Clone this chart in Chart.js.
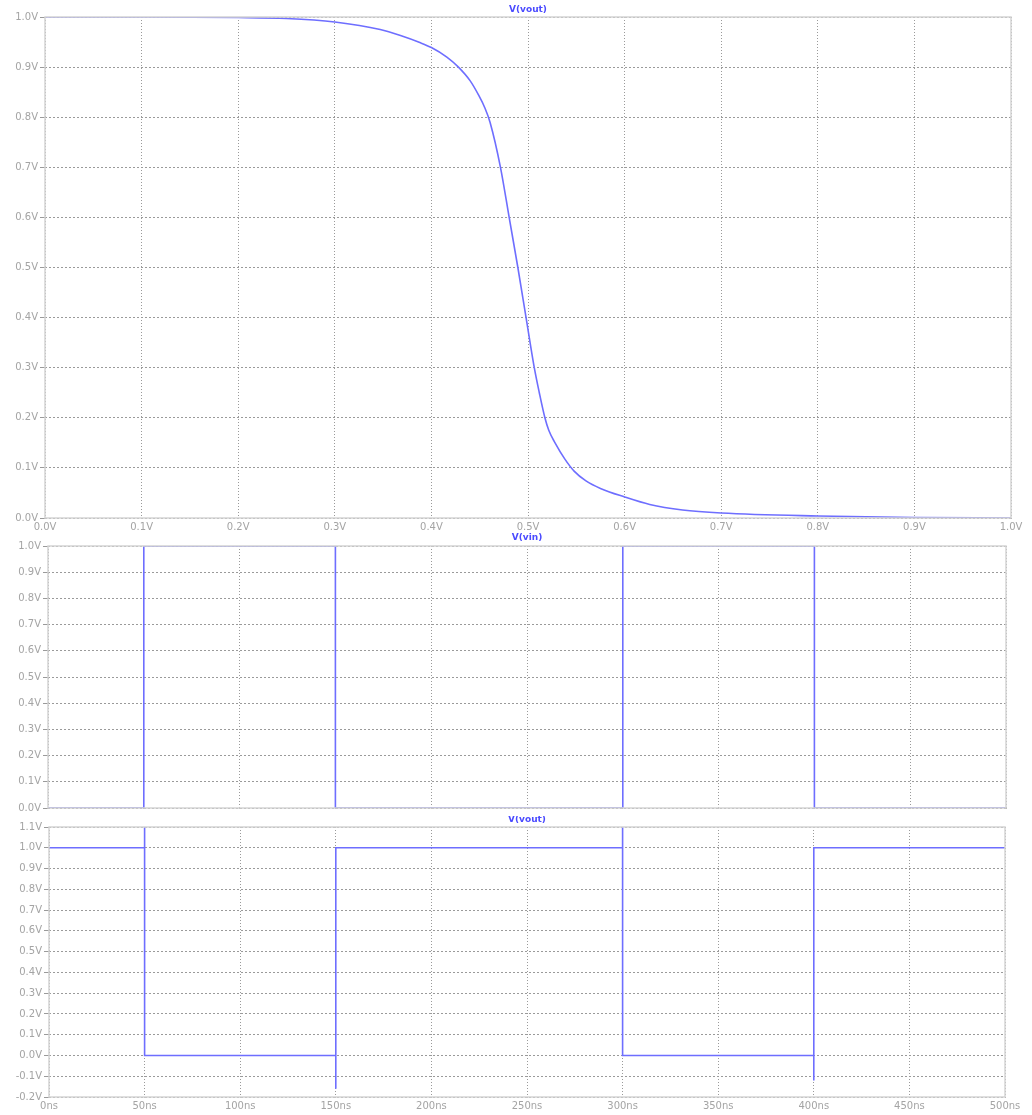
<!DOCTYPE html>
<html>
<head>
<meta charset="utf-8">
<script src="https://cdn.jsdelivr.net/npm/chart.js@4"></script>
<style>
  html, body { margin: 0; padding: 0; background: #fff; }
  #wrap { position: relative; width: 1032px; height: 1115px; }
  canvas { position: absolute; left: 0; }
</style>
</head>
<body>
<div id="wrap">
  <canvas id="dc" width="1032" height="532" style="top:0"></canvas>
  <canvas id="vin" width="1032" height="284" style="top:532px"></canvas>
  <canvas id="vout" width="1032" height="299" style="top:816px"></canvas>
</div>
<script>
// DC sweep: V(vout) vs V(vin)
const sweepVin = [0, 0.1, 0.2, 0.25, 0.3, 0.347, 0.368, 0.388, 0.4, 0.416, 0.428, 0.44, 0.4486, 0.4555, 0.4607, 0.4715, 0.4805, 0.4895, 0.498, 0.5065, 0.5117, 0.5175, 0.5215, 0.528, 0.538, 0.548, 0.56, 0.575, 0.6, 0.626, 0.66, 0.7, 0.8, 0.9, 1.0];
const sweepVout = [1.0, 1.0, 0.999, 0.997, 0.99, 0.975, 0.963, 0.949, 0.939, 0.92, 0.9, 0.873, 0.845, 0.818, 0.79, 0.7, 0.6, 0.5, 0.4, 0.3, 0.25, 0.2, 0.175, 0.15, 0.118, 0.093, 0.074, 0.059, 0.042, 0.027, 0.016, 0.01, 0.004, 0.001, 0.0];

// transient: V(vin)
const vinTime = [0, 50, 50, 150, 150, 300, 300, 400, 400, 500];
const vinVolt = [0, 0, 1, 1, 0, 0, 1, 1, 0, 0];

// transient: V(vout)
const voutTime = [0, 50, 50, 50, 150, 150, 150, 300, 300, 300, 400, 400, 400, 500];
const voutVolt = [1, 1, 1.15, 0, 0, -0.16, 1, 1, 1.15, 0, 0, -0.12, 1, 1];

// tick labels
const sweepTicks = [0, 0.1, 0.2, 0.3, 0.4, 0.5, 0.6, 0.7, 0.8, 0.9, 1.0];
const voltTicks = [0, 0.1, 0.2, 0.3, 0.4, 0.5, 0.6, 0.7, 0.8, 0.9, 1.0];
const voltTicksWide = [-0.2, -0.1, 0, 0.1, 0.2, 0.3, 0.4, 0.5, 0.6, 0.7, 0.8, 0.9, 1.0, 1.1];
const timeTicks = [0, 50, 100, 150, 200, 250, 300, 350, 400, 450, 500];

const LINE = '#6e6eff';
const GRID = '#9a9a9a';
const TEXT = '#a4a4a4';
const FONT = { family: 'DejaVu Sans', size: 10 };

// title + frame around the plot area
const panelDeco = {
  id: 'panelDeco',
  afterDraw(chart, args, opts) {
    const { ctx, chartArea: a } = chart;
    ctx.save();
    ctx.strokeStyle = '#d4d4d4';
    ctx.lineWidth = 1.5;
    ctx.strokeRect(a.left, a.top, a.right - a.left, a.bottom - a.top);
    ctx.fillStyle = '#4a4aff';
    ctx.font = 'bold 9px "DejaVu Sans"';
    ctx.textAlign = 'center';
    ctx.textBaseline = 'middle';
    ctx.fillText(opts.text, (a.left + a.right) / 2, a.top - opts.gap);
    ctx.restore();
  }
};

function pts(xs, ys) {
  return xs.map((x, i) => ({ x: x, y: ys[i] }));
}

function fixedTicks(list) {
  return scale => { scale.ticks = list.map(v => ({ value: v })); };
}

function makeChart(id, cfg) {
  return new Chart(document.getElementById(id), {
    type: 'line',
    data: {
      datasets: [{
        data: cfg.data,
        borderColor: LINE,
        borderWidth: 1.6,
        pointRadius: 0,
        fill: false,
        tension: cfg.smooth ? 0.4 : 0,
        cubicInterpolationMode: cfg.smooth ? 'monotone' : 'default'
      }]
    },
    options: {
      responsive: false,
      animation: false,
      devicePixelRatio: 1,
      layout: { padding: { top: cfg.top, right: cfg.right, left: 0, bottom: 0 } },
      plugins: {
        legend: { display: false },
        tooltip: { enabled: false },
        panelDeco: { text: cfg.title, gap: cfg.gap }
      },
      scales: {
        x: {
          type: 'linear',
          min: cfg.xTicks[0],
          max: cfg.xTicks[cfg.xTicks.length - 1],
          afterBuildTicks: fixedTicks(cfg.xTicks),
          afterFit: s => { s.height = cfg.xHeight; },
          border: { display: false, dash: [1, 2] },
          grid: { color: GRID, tickLength: 3, tickBorderDash: [1, 2] },
          ticks: {
            display: cfg.xLabels,
            color: TEXT,
            font: FONT,
            padding: 0,
            maxRotation: 0,
            autoSkip: false,
            callback: cfg.xFmt
          }
        },
        y: {
          min: cfg.yTicks[0],
          max: cfg.yTicks[cfg.yTicks.length - 1],
          afterBuildTicks: fixedTicks(cfg.yTicks),
          afterFit: s => { s.width = cfg.left; },
          border: { display: false, dash: [2, 2] },
          grid: { color: GRID, tickLength: 5 },
          ticks: {
            color: TEXT,
            font: FONT,
            padding: 2,
            autoSkip: false,
            callback: v => v.toFixed(1) + 'V'
          }
        }
      }
    },
    plugins: [panelDeco]
  });
}

makeChart('dc', {
  data: pts(sweepVin, sweepVout),
  smooth: true,
  title: 'V(vout)', gap: 7,
  top: 17, right: 21, left: 45, xHeight: 14, xLabels: true,
  xTicks: sweepTicks, yTicks: voltTicks,
  xFmt: v => v.toFixed(1) + 'V'
});

makeChart('vin', {
  data: pts(vinTime, vinVolt),
  smooth: false,
  title: 'V(vin)', gap: 8,
  top: 14, right: 26, left: 48, xHeight: 3, xLabels: false,
  xTicks: timeTicks, yTicks: voltTicks,
  xFmt: v => v + 'ns'
});

makeChart('vout', {
  data: pts(voutTime, voutVolt),
  smooth: false,
  title: 'V(vout)', gap: 7,
  top: 11, right: 27, left: 49, xHeight: 18, xLabels: true,
  xTicks: timeTicks, yTicks: voltTicksWide,
  xFmt: v => v + 'ns'
});
</script>
</body>
</html>
